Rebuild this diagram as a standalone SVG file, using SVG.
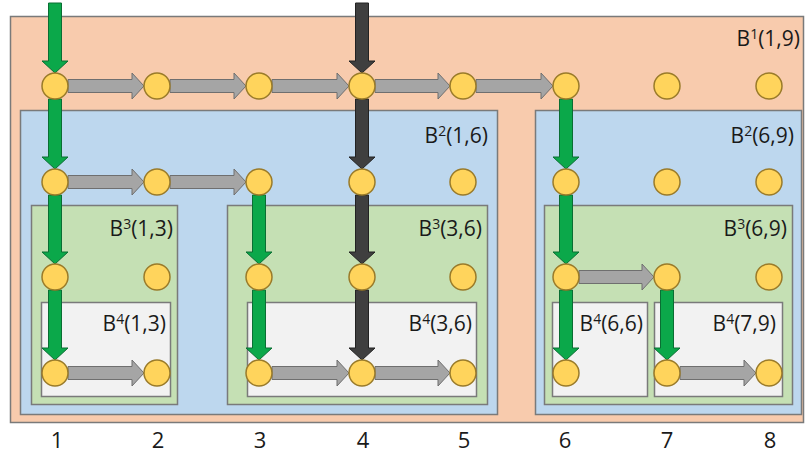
<svg xmlns="http://www.w3.org/2000/svg" width="805" height="454" viewBox="0 0 805 454">
<style>
.box{stroke:#7a7a7a;stroke-width:1.5}
.b1{fill:#F8CBAD}.b2{fill:#BDD7EE}.b3{fill:#C5E0B4}.b4{fill:#F2F2F2}
.lbl{font-family:"Open Sans","Liberation Sans",sans-serif;font-size:21px;fill:#1a1a1a;text-anchor:end}
.num{font-family:"Open Sans","Liberation Sans",sans-serif;font-size:22px;fill:#1a1a1a;text-anchor:middle}
.sup{font-size:14px}
.ga{fill:#A5A5A5;stroke:#6f6f6f;stroke-width:1}
.gr{fill:#0BA84A;stroke:#0a6e33;stroke-width:1}
.dk{fill:#3f3f3f;stroke:#222;stroke-width:1}
.pt{fill:#FFD45C;stroke:#9a7b2a;stroke-width:1.5}
</style>
<rect width="805" height="454" fill="#ffffff"/>
<g id="B1_1_9"><rect class="box b1" x="10.5" y="16.5" width="793" height="406"/><text class="lbl" x="800" y="46">B<tspan class="sup" dy="-7">1</tspan><tspan dy="7">(1,9)</tspan></text></g>
<g id="B2_1_6"><rect class="box b2" x="20.5" y="110.5" width="477" height="304"/><text class="lbl" x="488" y="143">B<tspan class="sup" dy="-7">2</tspan><tspan dy="7">(1,6)</tspan></text></g>
<g id="B2_6_9"><rect class="box b2" x="535.5" y="110.5" width="266" height="304"/><text class="lbl" x="794" y="143">B<tspan class="sup" dy="-7">2</tspan><tspan dy="7">(6,9)</tspan></text></g>
<g id="B3_1_3"><rect class="box b3" x="31.5" y="205.5" width="146" height="199"/><text class="lbl" x="173" y="236">B<tspan class="sup" dy="-7">3</tspan><tspan dy="7">(1,3)</tspan></text></g>
<g id="B3_3_6"><rect class="box b3" x="227.5" y="205.5" width="260" height="199"/><text class="lbl" x="482" y="236">B<tspan class="sup" dy="-7">3</tspan><tspan dy="7">(3,6)</tspan></text></g>
<g id="B3_6_9"><rect class="box b3" x="544.5" y="205.5" width="248" height="199"/><text class="lbl" x="787" y="236">B<tspan class="sup" dy="-7">3</tspan><tspan dy="7">(6,9)</tspan></text></g>
<g id="B4_1_3"><rect class="box b4" x="41.5" y="302.5" width="129" height="94"/><text class="lbl" x="166" y="331">B<tspan class="sup" dy="-7">4</tspan><tspan dy="7">(1,3)</tspan></text></g>
<g id="B4_3_6"><rect class="box b4" x="247.5" y="302.5" width="229" height="94"/><text class="lbl" x="472" y="331">B<tspan class="sup" dy="-7">4</tspan><tspan dy="7">(3,6)</tspan></text></g>
<g id="B4_6_6"><rect class="box b4" x="552.5" y="302.5" width="95" height="94"/><text class="lbl" x="643" y="331">B<tspan class="sup" dy="-7">4</tspan><tspan dy="7">(6,6)</tspan></text></g>
<g id="B4_7_9"><rect class="box b4" x="654.5" y="302.5" width="128" height="94"/><text class="lbl" x="776" y="331">B<tspan class="sup" dy="-7">4</tspan><tspan dy="7">(7,9)</tspan></text></g>
<g id="connectors">
<path class="ga" d="M68 79.5 H132 V73 L144 86 L132 99 V92.5 H68 Z"/>
<path class="ga" d="M170 79.5 H234 V73 L246 86 L234 99 V92.5 H170 Z"/>
<path class="ga" d="M272 79.5 H337 V73 L349 86 L337 99 V92.5 H272 Z"/>
<path class="ga" d="M375 79.5 H438 V73 L450 86 L438 99 V92.5 H375 Z"/>
<path class="ga" d="M476 79.5 H541 V73 L553 86 L541 99 V92.5 H476 Z"/>
<path class="ga" d="M68 175.5 H132 V169 L144 182 L132 195 V188.5 H68 Z"/>
<path class="ga" d="M170 175.5 H234 V169 L246 182 L234 195 V188.5 H170 Z"/>
<path class="ga" d="M579 270.5 H642 V264 L654 277 L642 290 V283.5 H579 Z"/>
<path class="ga" d="M68 366.5 H132 V360 L144 373 L132 386 V379.5 H68 Z"/>
<path class="ga" d="M272 366.5 H337 V360 L349 373 L337 386 V379.5 H272 Z"/>
<path class="ga" d="M375 366.5 H438 V360 L450 373 L438 386 V379.5 H375 Z"/>
<path class="ga" d="M680 366.5 H744 V360 L756 373 L744 386 V379.5 H680 Z"/>
<path class="gr" d="M48.5 3 H61.5 V61 H68 L55 73 L42 61 H48.5 Z"/>
<path class="gr" d="M48.5 99 H61.5 V157 H68 L55 169 L42 157 H48.5 Z"/>
<path class="gr" d="M48.5 195 H61.5 V252 H68 L55 264 L42 252 H48.5 Z"/>
<path class="gr" d="M48.5 290 H61.5 V348 H68 L55 360 L42 348 H48.5 Z"/>
<path class="gr" d="M252.5 195 H265.5 V252 H272 L259 264 L246 252 H252.5 Z"/>
<path class="gr" d="M252.5 290 H265.5 V348 H272 L259 360 L246 348 H252.5 Z"/>
<path class="gr" d="M559.5 99 H572.5 V157 H579 L566 169 L553 157 H559.5 Z"/>
<path class="gr" d="M559.5 195 H572.5 V252 H579 L566 264 L553 252 H559.5 Z"/>
<path class="gr" d="M559.5 290 H572.5 V348 H579 L566 360 L553 348 H559.5 Z"/>
<path class="gr" d="M660.5 290 H673.5 V348 H680 L667 360 L654 348 H660.5 Z"/>
<path class="dk" d="M355.5 3 H368.5 V61 H375 L362 73 L349 61 H355.5 Z"/>
<path class="dk" d="M355.5 99 H368.5 V157 H375 L362 169 L349 157 H355.5 Z"/>
<path class="dk" d="M355.5 195 H368.5 V252 H375 L362 264 L349 252 H355.5 Z"/>
<path class="dk" d="M355.5 290 H368.5 V348 H375 L362 360 L349 348 H355.5 Z"/>
</g>
<g id="nodes">
<g id="n1_1"><circle class="pt" cx="55" cy="86" r="13"/></g>
<g id="n1_2"><circle class="pt" cx="157" cy="86" r="13"/></g>
<g id="n1_3"><circle class="pt" cx="259" cy="86" r="13"/></g>
<g id="n1_4"><circle class="pt" cx="362" cy="86" r="13"/></g>
<g id="n1_5"><circle class="pt" cx="463" cy="86" r="13"/></g>
<g id="n1_6"><circle class="pt" cx="566" cy="86" r="13"/></g>
<g id="n1_7"><circle class="pt" cx="667" cy="86" r="13"/></g>
<g id="n1_8"><circle class="pt" cx="769" cy="86" r="13"/></g>
<g id="n2_1"><circle class="pt" cx="55" cy="182" r="13"/></g>
<g id="n2_2"><circle class="pt" cx="157" cy="182" r="13"/></g>
<g id="n2_3"><circle class="pt" cx="259" cy="182" r="13"/></g>
<g id="n2_4"><circle class="pt" cx="362" cy="182" r="13"/></g>
<g id="n2_5"><circle class="pt" cx="463" cy="182" r="13"/></g>
<g id="n2_6"><circle class="pt" cx="566" cy="182" r="13"/></g>
<g id="n2_7"><circle class="pt" cx="667" cy="182" r="13"/></g>
<g id="n2_8"><circle class="pt" cx="769" cy="182" r="13"/></g>
<g id="n3_1"><circle class="pt" cx="55" cy="277" r="13"/></g>
<g id="n3_2"><circle class="pt" cx="157" cy="277" r="13"/></g>
<g id="n3_3"><circle class="pt" cx="259" cy="277" r="13"/></g>
<g id="n3_4"><circle class="pt" cx="362" cy="277" r="13"/></g>
<g id="n3_5"><circle class="pt" cx="463" cy="277" r="13"/></g>
<g id="n3_6"><circle class="pt" cx="566" cy="277" r="13"/></g>
<g id="n3_7"><circle class="pt" cx="667" cy="277" r="13"/></g>
<g id="n3_8"><circle class="pt" cx="769" cy="277" r="13"/></g>
<g id="n4_1"><circle class="pt" cx="55" cy="373" r="13"/></g>
<g id="n4_2"><circle class="pt" cx="157" cy="373" r="13"/></g>
<g id="n4_3"><circle class="pt" cx="259" cy="373" r="13"/></g>
<g id="n4_4"><circle class="pt" cx="362" cy="373" r="13"/></g>
<g id="n4_5"><circle class="pt" cx="463" cy="373" r="13"/></g>
<g id="n4_6"><circle class="pt" cx="566" cy="373" r="13"/></g>
<g id="n4_7"><circle class="pt" cx="667" cy="373" r="13"/></g>
<g id="n4_8"><circle class="pt" cx="769" cy="373" r="13"/></g>
</g>
<g id="axis">
<text class="num" x="57" y="448">1</text>
<text class="num" x="158" y="448">2</text>
<text class="num" x="260" y="448">3</text>
<text class="num" x="363" y="448">4</text>
<text class="num" x="464" y="448">5</text>
<text class="num" x="565" y="448">6</text>
<text class="num" x="667" y="448">7</text>
<text class="num" x="770" y="448">8</text>
</g>
</svg>
